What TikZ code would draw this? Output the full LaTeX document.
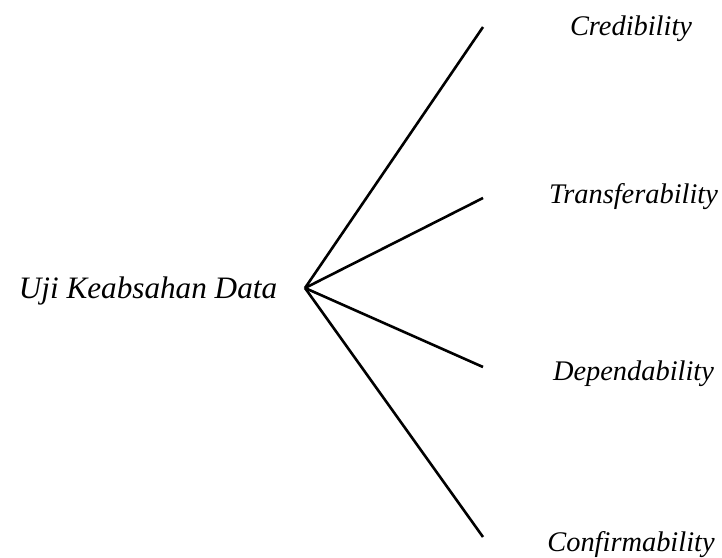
\documentclass[tikz,border=0pt]{standalone}
\usepackage{fontspec}
\setmainfont{Liberation Serif}
\usepackage{tikz}
\usetikzlibrary{positioning,calc}
\usepackage{xcolor}
\definecolor{inkBlack}{HTML}{000000}

\tikzset{
  branch/.style={inkBlack,line width=1.3pt},
  rootlabel/.style={anchor=base,font=\fontsize{15.6}{18}\selectfont\itshape},
  leaflabel/.style={anchor=base,font=\fontsize{14.2}{17}\selectfont\itshape}
}

\begin{document}
\begin{tikzpicture}[x=0.5pt,y=-0.5pt]
  \useasboundingbox (0,0) rectangle (722,557);
  \node[rootlabel] (uji) at (148,298) {Uji Keabsahan Data};
  \coordinate (hub) at (305,288);
  % ends of the four branches
  \coordinate (eCred) at (483,27);
  \coordinate (eTrans) at (483,198);
  \coordinate (eDep) at (483,367);
  \coordinate (eConf) at (483,537);
  \foreach \e in {eCred,eTrans,eDep,eConf}
    \draw[branch] (hub) -- (\e);
  \node[leaflabel] (cred) at (631,35) {Credibility};
  \node[leaflabel] (trans) at (633.5,203) {Transferability};
  \node[leaflabel] (dep) at (633.5,380) {Dependability};
  \node[leaflabel] (conf) at (631,551) {Confirmability};
\end{tikzpicture}
\end{document}
